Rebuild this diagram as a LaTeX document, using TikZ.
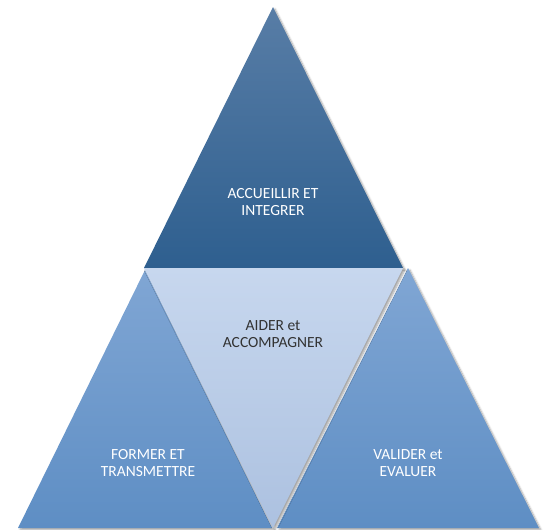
\documentclass[tikz,border=0pt]{standalone}
\usepackage{fontspec}
\setmainfont{Carlito}
\usetikzlibrary{shadows.blur}
\definecolor{topA}{RGB}{88,125,166}
\definecolor{topB}{RGB}{46,95,143}
\definecolor{midA}{RGB}{199,215,238}
\definecolor{midB}{RGB}{172,193,224}
\definecolor{sideA}{RGB}{128,166,212}
\definecolor{sideB}{RGB}{94,142,196}
\definecolor{darktext}{RGB}{51,51,51}
\tikzset{
  shade/.style={blur shadow={shadow xshift=2pt,shadow yshift=-2pt,shadow blur steps=6,shadow opacity=35}},
  lbl/.style={align=center,font=\fontsize{15.5}{17}\selectfont,text=white,inner sep=0pt},
  dlbl/.style={lbl,text=darktext}
}
\begin{document}
\begin{tikzpicture}[x=1pt,y=-1pt]
\useasboundingbox (0,0) rectangle (547,530);
% corner coordinates
\coordinate (tA) at (273,7);
\coordinate (tL) at (144,268);
\coordinate (tR) at (403,268);
\coordinate (mB) at (273,528);
\coordinate (lA) at (145,270);
\coordinate (lL) at (18,528);
\coordinate (lR) at (272,528);
\coordinate (rA) at (408,268);
\coordinate (rL) at (277,528);
\coordinate (rR) at (539,528);
% triangles
\path[shade,top color=sideA,bottom color=sideB] (lA) -- (lR) -- (lL) -- cycle;
\path[shade,top color=sideA,bottom color=sideB] (rA) -- (rR) -- (rL) -- cycle;
\path[shade,top color=topA,bottom color=topB] (tA) -- (tR) -- (tL) -- cycle;
\path[shade,top color=midA,bottom color=midB] (tL) -- (tR) -- (mB) -- cycle;
% labels
\node[lbl] (top) at (273,202.5) {ACCUEILLIR ET\\INTEGRER};
\node[dlbl] (mid) at (273,334) {AIDER et\\ACCOMPAGNER};
\node[lbl] (left) at (148,463.5) {FORMER ET\\TRANSMETTRE};
\node[lbl] (right) at (408,463.5) {VALIDER et\\EVALUER};
\end{tikzpicture}
\end{document}
